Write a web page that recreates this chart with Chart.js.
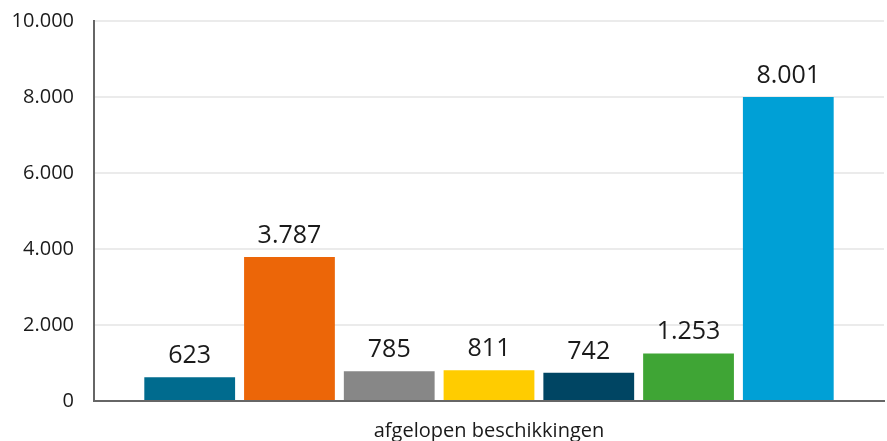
<!DOCTYPE html>
<html>
<head>
<meta charset="utf-8">
<script src="https://cdn.jsdelivr.net/npm/chart.js@4/dist/chart.umd.min.js"></script>
<style>
html,body{margin:0;padding:0;background:#fff;}
#wrap{width:887px;height:441px;position:relative;}
</style>
</head>
<body>
<div id="wrap"><canvas id="c"></canvas></div>
<script>
const categories = ["afgelopen beschikkingen"];
const seriesNames = ["Serie 1","Serie 2","Serie 3","Serie 4","Serie 5","Serie 6","Serie 7"];
const seriesValues = [623, 3787, 785, 811, 742, 1253, 8001];
const seriesColors = ["#006b8e","#ec6608","#878787","#ffcc00","#004563","#3fa535","#00a0d6"];
const yTicks = [0, 2000, 4000, 6000, 8000, 10000];

const fmt = v => v.toLocaleString('nl-NL');
const FONT = "'Open Sans', 'Noto Sans', sans-serif";

const labelPlugin = {
  id: 'valueLabels',
  afterDatasetsDraw(chart) {
    const ctx = chart.ctx;
    ctx.save();
    ctx.font = "25px " + FONT;
    ctx.fillStyle = "#1a1a1a";
    ctx.textAlign = "center";
    ctx.textBaseline = "alphabetic";
    chart.data.datasets.forEach((ds, i) => {
      const meta = chart.getDatasetMeta(i);
      meta.data.forEach((bar, j) => {
        ctx.fillText(fmt(ds.data[j]), bar.x, bar.y - 14);
      });
    });
    ctx.restore();
  }
};

new Chart(document.getElementById('c'), {
  type: 'bar',
  data: {
    labels: categories,
    datasets: seriesNames.map((n, i) => ({
      label: n,
      data: [seriesValues[i]],
      backgroundColor: seriesColors[i],
      borderWidth: 0,
      categoryPercentage: 0.884,
      barPercentage: 0.91
    }))
  },
  options: {
    responsive: true,
    maintainAspectRatio: false,
    animation: false,
    layout: { padding: { top: 21, right: 3, left: 0, bottom: 0 } },
    plugins: { legend: { display: false }, tooltip: { enabled: false } },
    scales: {
      x: {
        grid: { display: false, drawTicks: false },
        border: { display: true, color: "#666666", width: 2 },
        afterFit: s => { s.height = 40; s.paddingLeft = 0; s.paddingRight = 0; },
        ticks: { color: "#1a1a1a", font: { family: FONT, size: 20 }, padding: 18 }
      },
      y: {
        min: 0, max: 10000,
        afterBuildTicks: s => { s.ticks = yTicks.map(v => ({ value: v })); },
        afterFit: s => { s.width = 94; s.paddingTop = 0; s.paddingBottom = 0; },
        grid: { color: "#ebebeb", lineWidth: 2, drawTicks: false },
        border: { display: true, color: "#666666", width: 2 },
        ticks: { color: "#1a1a1a", font: { family: FONT, size: 20 }, padding: 20, callback: v => fmt(v) }
      }
    }
  },
  plugins: [labelPlugin]
});
</script>
</body>
</html>
